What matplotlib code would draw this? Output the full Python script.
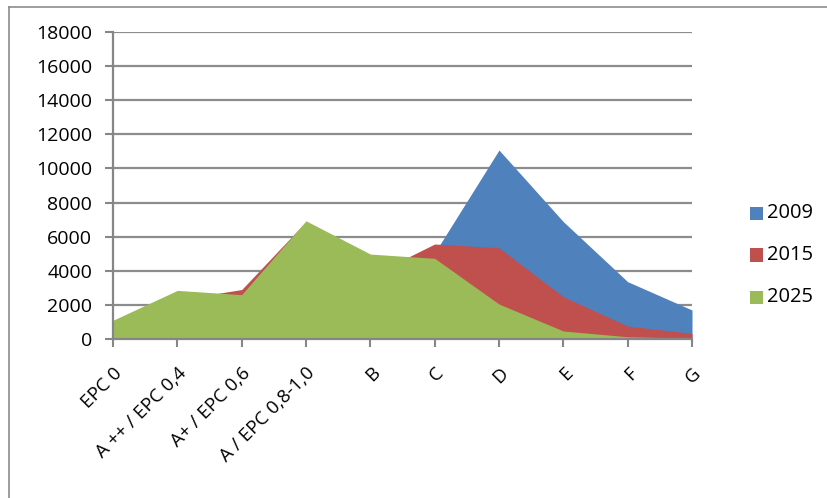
import matplotlib.pyplot as plt
from matplotlib.lines import Line2D
from matplotlib.patches import Rectangle

categories = ["EPC 0", "A ++ / EPC 0,4", "A+ / EPC 0,6", "A / EPC 0,8-1,0",
              "B", "C", "D", "E", "F", "G"]
y2009 = [1000, 2200, 2500, 6850, 3600, 5050, 11080, 6880, 3360, 1700]
y2015 = [1050, 2300, 2900, 6880, 3700, 5570, 5350, 2480, 760, 330]
y2025 = [1100, 2850, 2600, 6930, 4980, 4730, 2050, 470, 130, 50]

series = [("2009", y2009, "#4F81BD"), ("2015", y2015, "#C0504D"), ("2025", y2025, "#9BBB59")]

plt.rcParams['font.family'] = ['Open Sans', 'DejaVu Sans']

fig = plt.figure(figsize=(8.27, 4.98), dpi=100)
ax = fig.add_axes([113/827, 1 - 339/498, (692-113)/827, (339-32)/498])

x = range(len(categories))
for name, vals, col in series:
    ax.fill_between(x, 0, vals, color=col, linewidth=0, zorder=2)

ax.set_xlim(0, len(categories) - 1)
ax.set_ylim(0, 18000)
ax.set_yticks(range(0, 18001, 2000))
ax.yaxis.grid(True, color="#8c8c8c", linewidth=1.6, zorder=0)
ax.set_axisbelow(True)

ax.set_xticks(list(x))
ax.set_xticklabels(categories, rotation=45, ha="right", rotation_mode="anchor", fontsize=13.5)
ax.tick_params(axis="y", labelsize=14, length=6, width=1.5, color="#868686", pad=9)
ax.tick_params(axis="x", length=6, width=1.5, color="#868686", pad=12)

for s in ["top", "right"]:
    ax.spines[s].set_visible(False)
for s in ["left", "bottom"]:
    ax.spines[s].set_color("#868686")
    ax.spines[s].set_linewidth(1.6)

# legend drawn by hand to match the spacing
for i, (name, vals, col) in enumerate(series):
    yc = 1 - (213 + 42 * i) / 498
    fig.add_artist(Rectangle((750/827, yc - 6.5/498), 12.5/827, 13/498,
                             transform=fig.transFigure, color=col, linewidth=0))
    fig.text(767/827, yc, name, va="center", ha="left", fontsize=14.5)

# chart border (cropped at right and bottom)
fig.add_artist(Line2D([9/827, 1], [1 - 7/498, 1 - 7/498], color="#8c8c8c", linewidth=1.2))
fig.add_artist(Line2D([9/827, 9/827], [0, 1 - 7/498], color="#8c8c8c", linewidth=1.2))

fig.savefig("out.png", dpi=100)
